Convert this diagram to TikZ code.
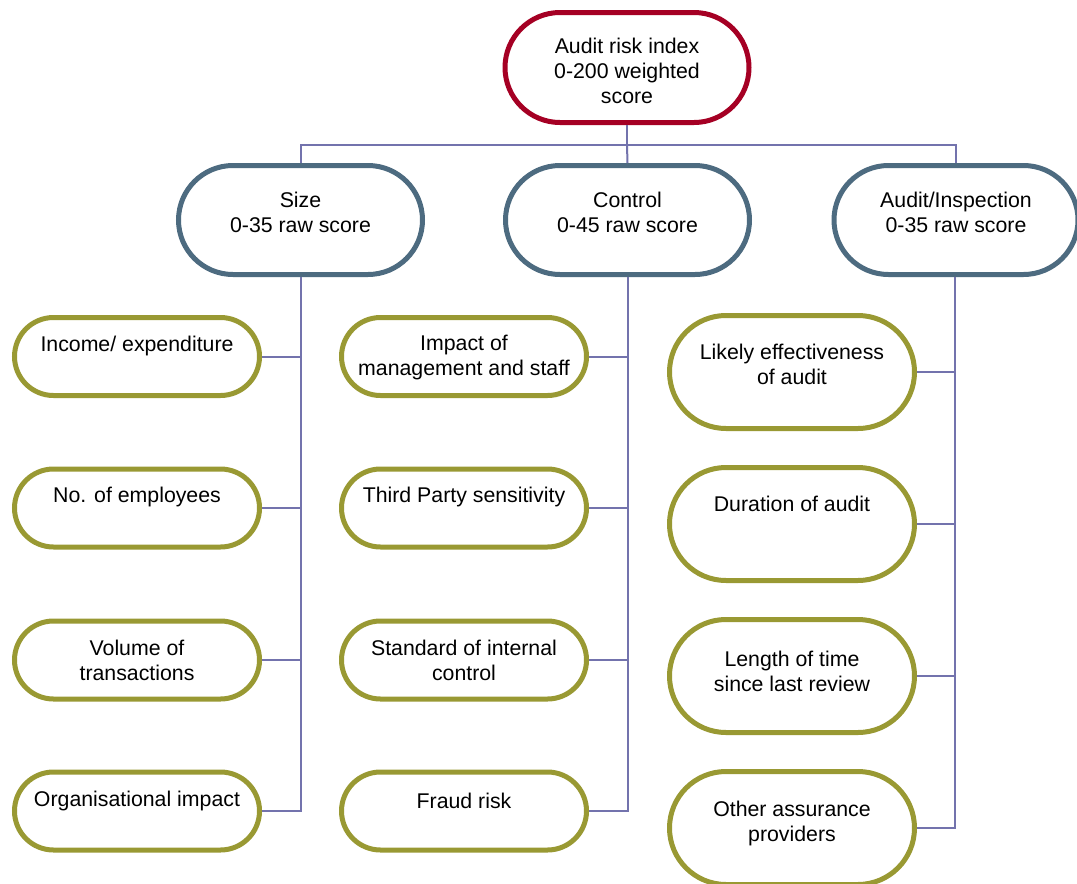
\documentclass[tikz,border=0pt]{standalone}
\usepackage{fontspec}
\setmainfont{Liberation Sans}
\usetikzlibrary{shapes.misc}
\definecolor{rootred}{RGB}{165,0,36}
\definecolor{catblue}{RGB}{77,107,128}
\definecolor{leafolive}{RGB}{153,153,51}
\definecolor{connpurple}{RGB}{115,115,173}
\begin{document}
\begin{tikzpicture}[x=1pt,y=-1pt,
  box/.style={rounded rectangle, line width=5pt, fill=white, inner sep=0pt},
  rootbox/.style={box, draw=rootred, minimum width=244pt, minimum height=110pt},
  catbox/.style={box, draw=catblue, minimum width=244pt, minimum height=109pt},
  leafbox/.style={box, draw=leafolive, minimum width=245pt, minimum height=78pt},
  tallleaf/.style={box, draw=leafolive, minimum width=245pt, minimum height=113pt},
  txt/.style={align=center, inner sep=0pt, font=\fontsize{21.3}{25}\selectfont},
  conn/.style={draw=connpurple, line width=2pt}
]
\clip (0,0) rectangle (1077,884);
\fill[white] (0,0) rectangle (1077,884);

\coordinate (hub) at (627,145);

% boxes
\node[rootbox] (root) at (627,67.5) {};
\node[catbox] (sz) at (300.5,220) {};
\node[catbox] (ct) at (627.5,220) {};
\node[catbox] (au) at (956,220) {};

\node[leafbox] (s1) at (137,356.5) {};
\node[leafbox] (s2) at (137,508) {};
\node[leafbox] (s3) at (137,660) {};
\node[leafbox] (s4) at (137,811) {};

\node[leafbox] (c1) at (464,356.5) {};
\node[leafbox] (c2) at (464,508) {};
\node[leafbox] (c3) at (464,660) {};
\node[leafbox] (c4) at (464,811) {};

\node[tallleaf] (a1) at (792,372) {};
\node[tallleaf] (a2) at (792,524) {};
\node[tallleaf] (a3) at (792,676) {};
\node[tallleaf] (a4) at (792,828) {};

% tree connectors
\draw[conn] (root.south) -- (hub);
\draw[conn] (sz.north) -- (sz.north |- hub) -- (au.north |- hub) -- (au.north);
\draw[conn] (hub) -- (ct.north);

\draw[conn] (sz.south) -- (sz.south |- s4.east) -- (s4.east);
\draw[conn] (s1.east) -- (s1.east -| sz.south);
\draw[conn] (s2.east) -- (s2.east -| sz.south);
\draw[conn] (s3.east) -- (s3.east -| sz.south);

\draw[conn] (ct.south) -- (ct.south |- c4.east) -- (c4.east);
\draw[conn] (c1.east) -- (c1.east -| ct.south);
\draw[conn] (c2.east) -- (c2.east -| ct.south);
\draw[conn] (c3.east) -- (c3.east -| ct.south);

\coordinate (autrunk) at (955,277);
\draw[conn] (autrunk) -- (autrunk |- a4.east) -- (a4.east);
\draw[conn] (a1.east) -- (a1.east -| autrunk);
\draw[conn] (a2.east) -- (a2.east -| autrunk);
\draw[conn] (a3.east) -- (a3.east -| autrunk);

% texts (yshift positive = up)
\node[txt] (roott) at ([yshift=-3.5]root.center) {Audit risk index\\0-200 weighted\\score};
\node[txt] (szt) at ([yshift=7.5]sz.center) {Size\\0-35 raw score};
\node[txt] (ctt) at ([yshift=7.5]ct.center) {Control\\0-45 raw score};
\node[txt] (aut) at ([yshift=7.5]au.center) {Audit/Inspection\\0-35 raw score};

\node[txt] (s1t) at ([yshift=11]s1.center) {Income/ expenditure};
\node[txt] (s2t) at ([yshift=11]s2.center) {No. of employees};
\node[txt] (s3t) at ([yshift=0]s3.center) {Volume of\\transactions};
\node[txt] (s4t) at ([yshift=10]s4.center) {Organisational impact};

\node[txt] (c1t) at ([yshift=-1]c1.center) {Impact of\\management and staff};
\node[txt] (c2t) at ([yshift=11]c2.center) {Third Party sensitivity};
\node[txt] (c3t) at ([yshift=0]c3.center) {Standard of internal\\control};
\node[txt] (c4t) at ([yshift=10]c4.center) {Fraud risk};

\node[txt] (a1t) at ([yshift=7.5]a1.center) {Likely effectiveness\\of audit};
\node[txt] (a2t) at ([yshift=20]a2.center) {Duration of audit};
\node[txt] (a3t) at ([yshift=4.5]a3.center) {Length of time\\since last review};
\node[txt] (a4t) at ([yshift=5]a4.center) {Other assurance\\providers};
\end{tikzpicture}
\end{document}
